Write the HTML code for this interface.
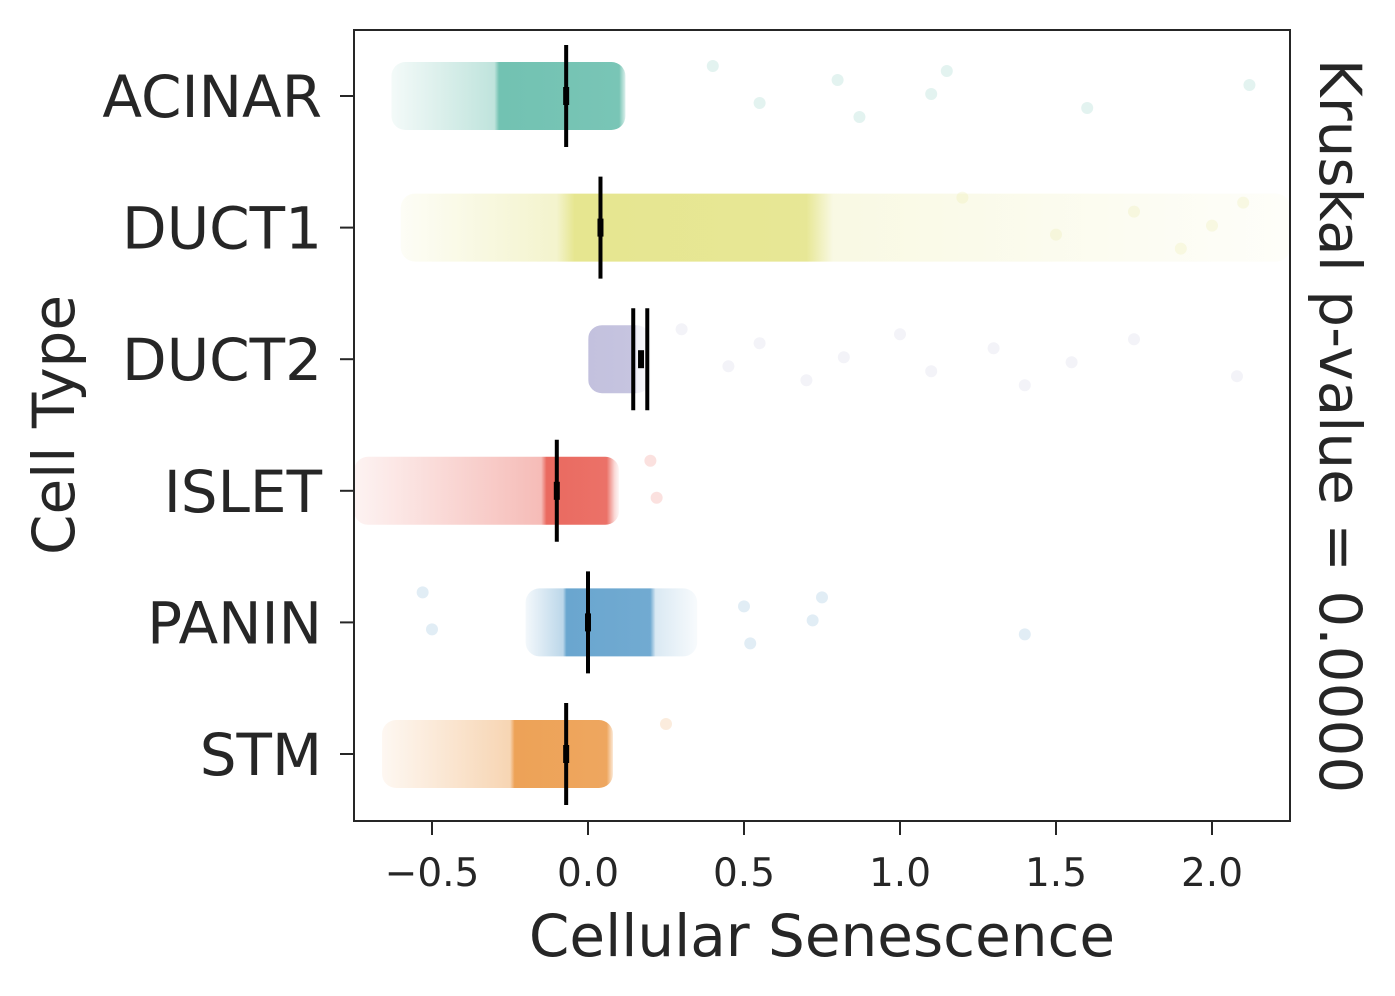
<!DOCTYPE html>
<html><head><meta charset="utf-8"><style>
html,body{margin:0;padding:0;background:#fff}
svg{display:block;font-family:"DejaVu Sans","Liberation Sans",sans-serif}
</style></head><body>
<svg id="chart" width="1395" height="996" viewBox="0 0 1395 996" xmlns="http://www.w3.org/2000/svg">
<defs id="defs"></defs>
<g id="bands"></g>
<g id="pts"></g>
<g id="meds"></g>
<rect x="354" y="30" width="936" height="791" fill="none" stroke="#262626" stroke-width="2"/>
<g id="axes" fill="#262626"></g>
<text transform="translate(74,425) rotate(-90)" text-anchor="middle" font-size="58" fill="#262626">Cell Type</text>
<text x="822" y="956" text-anchor="middle" font-size="58" fill="#262626">Cellular Senescence</text>
<text transform="translate(1320,426) rotate(90)" text-anchor="middle" font-size="58" fill="#262626">Kruskal p-value = 0.0000</text>
</svg>
<script>
const categories=["ACINAR","DUCT1","DUCT2","ISLET","PANIN","STM"];
const colors=["#72c2b2","#e6e690","#c3c1de","#ea6a60","#6aa6cf","#eda257"];
const rangeLo=[-0.63,-0.6,0.0,-0.75,-0.2,-0.66];
const denseLo=[-0.3,-0.1,0.0,-0.15,-0.08,-0.25];
const denseHi=[0.1,0.7,0.15,0.06,0.2,0.06];
const rangeHi=[0.12,2.25,0.2,0.1,0.35,0.08];
const medians=[-0.07,0.04,0.17,-0.1,0.0,-0.07];
const ciLo=[-0.07,0.04,0.145,-0.1,0.0,-0.07];
const ciHi=[-0.07,0.04,0.19,-0.1,0.0,-0.07];
const outliers=[[0.4,0.55,0.8,0.87,1.1,1.15,1.6,2.12],[1.2,1.5,1.75,1.9,2.0,2.1],[0.3,0.45,0.55,0.7,0.82,1.0,1.1,1.3,1.4,1.55,1.75,2.08],[0.2,0.22],[-0.53,-0.5,0.5,0.52,0.72,0.75,1.4],[0.25]];
const xTicks=[-0.5,0,0.5,1,1.5,2];
const xTickLabels=["\u22120.5","0.0","0.5","1.0","1.5","2.0"];
const NS="http://www.w3.org/2000/svg";
const X0=354,X1=1290,XMIN=-0.75,XMAX=2.25;
const xs=v=>X0+(v-XMIN)/(XMAX-XMIN)*(X1-X0);
const ys=i=>96+i*131.6;
function mk(t,a,p){const e=document.createElementNS(NS,t);for(const k in a)e.setAttribute(k,a[k]);p.appendChild(e);return e;}
const defs=document.getElementById('defs'),bands=document.getElementById('bands'),pts=document.getElementById('pts'),meds=document.getElementById('meds'),axes=document.getElementById('axes');
categories.forEach((c,i)=>{
  const lo=xs(rangeLo[i]),hi=xs(Math.min(rangeHi[i],XMAX)),w=hi-lo;
  const g=mk('linearGradient',{id:'g'+i,x1:lo,x2:hi,y1:0,y2:0,gradientUnits:'userSpaceOnUse'},defs);
  const f=v=>Math.max(0,Math.min(1,(xs(v)-lo)/w));
  [[0,0.08],[f(denseLo[i]),0.45],[Math.min(1,f(denseLo[i])+0.02),1],[f(denseHi[i]),0.95],[Math.min(1,f(denseHi[i])+0.03),0.25],[1,0.05]].forEach(s=>mk('stop',{offset:s[0],'stop-color':colors[i],'stop-opacity':s[1]},g));
  const y=ys(i);
  const b=mk('rect',{x:lo,y:y-34,width:w,height:68,rx:14,fill:'url(#g'+i+')'},bands);
  
  
  outliers[i].forEach((v,k)=>{
    const p=mk('circle',{cx:xs(v),cy:y+((k*37)%60-30),r:6,fill:colors[i],'fill-opacity':0.2},pts);
    
    
  });
  const x1=xs(ciLo[i]),x2=xs(ciHi[i]);
  [x1,x2].filter((v,k)=>k==0||x2-x1>2).forEach(xx=>{
    const l=mk('line',{x1:xx,x2:xx,y1:y-51,y2:y+51,stroke:'#000','stroke-width':4},meds);
    
    
  });
  const m=mk('rect',{x:xs(medians[i])-3,y:y-9,width:6,height:18,fill:'#000'},meds);
  
  
  const tk=mk('line',{x1:340,x2:354,y1:y,y2:y,stroke:'#262626','stroke-width':2},axes);
  
  
  const t=mk('text',{x:322,y:y+21,'text-anchor':'end','font-size':58},axes);
  t.textContent=c;
  
  
});
xTicks.forEach((v,k)=>{
  const tk=mk('line',{x1:xs(v),x2:xs(v),y1:821,y2:835,stroke:'#262626','stroke-width':2},axes);
  
  
  const t=mk('text',{x:xs(v),y:886,'text-anchor':'middle','font-size':39},axes);
  t.textContent=xTickLabels[k];
  
  
});
</script>
</body></html>
